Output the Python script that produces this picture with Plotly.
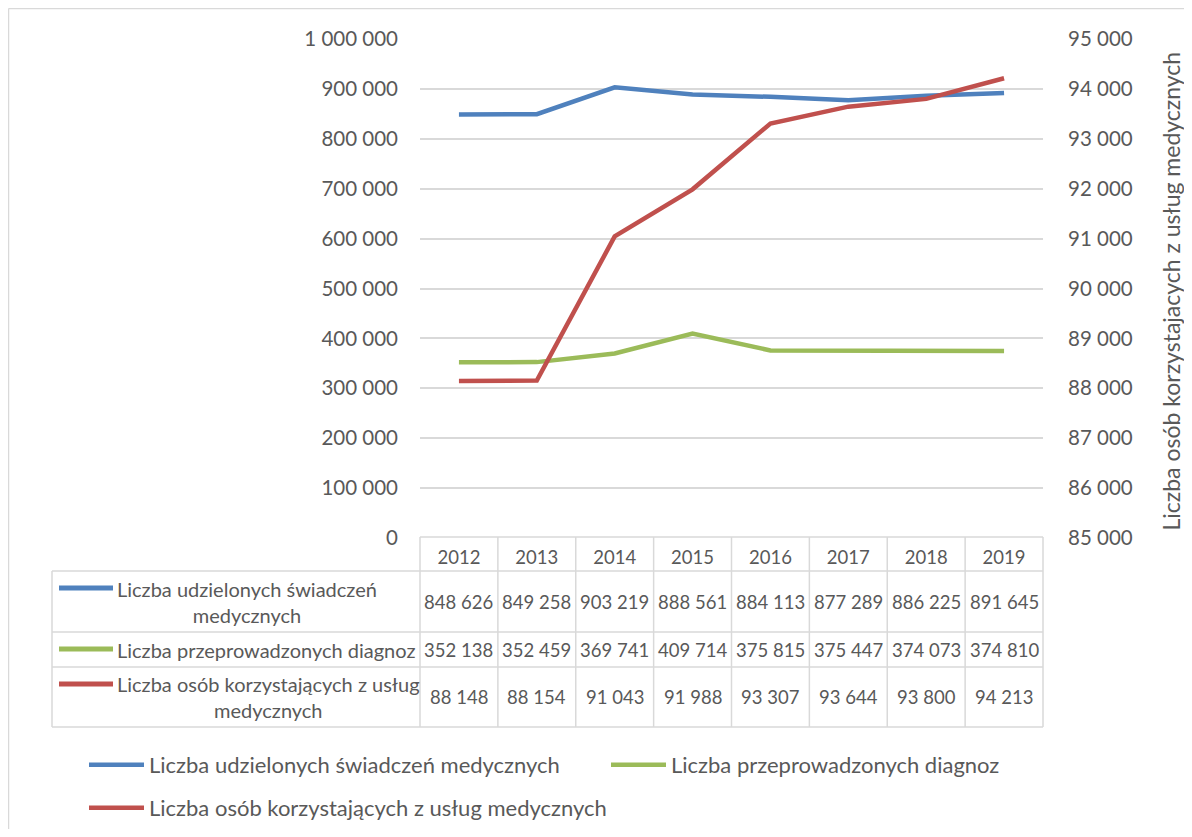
import plotly.graph_objects as go

# page body has an 8px margin, so the figure is drawn 8px in from the window edge
OFF = 8
W, H = 1176, 821

years = ["2012", "2013", "2014", "2015", "2016", "2017", "2018", "2019"]
swiadczenia = [848626, 849258, 903219, 888561, 884113, 877289, 886225, 891645]
diagnozy = [352138, 352459, 369741, 409714, 375815, 375447, 374073, 374810]
osoby = [88148, 88154, 91043, 91988, 93307, 93644, 93800, 94213]

names = [
    "Liczba udzielonych świadczeń medycznych",
    "Liczba przeprowadzonych diagnoz",
    "Liczba osób korzystających z usług medycznych",
]
table_names = [
    "Liczba udzielonych świadczeń<br>medycznych",
    "Liczba przeprowadzonych diagnoz",
    "Liczba osób korzystających z usług<br>medycznych",
]
right_title = "Liczba osób korzystajacych z usług medycznych"

BLUE, GREEN, RED = "#4f81bd", "#9bbb59", "#c0504d"
TXT = "#595959"
GRID = "#d9d9d9"
FONT = "Lato"


def px_x(v):
    return (v - OFF) / W


def px_y(v):
    return 1 - (v - OFF) / H


fig = go.Figure()
fig.add_trace(go.Scatter(x=years, y=swiadczenia, name=names[0], mode="lines",
                         line=dict(color=BLUE, width=4.5)))
fig.add_trace(go.Scatter(x=years, y=diagnozy, name=names[1], mode="lines",
                         line=dict(color=GREEN, width=4.5)))
fig.add_trace(go.Scatter(x=years, y=osoby, name=names[2], mode="lines", yaxis="y2",
                         legend="legend2", line=dict(color=RED, width=4.5)))

# plot area in window pixels
PL, PR, PT, PB = 420, 1043, 39, 538

leg_common = dict(orientation="h", xanchor="left", yanchor="middle",
                  itemwidth=55, entrywidth=452, entrywidthmode="pixels",
                  font=dict(size=22, color=TXT), bgcolor="rgba(0,0,0,0)")

fig.update_layout(
    width=W, height=H,
    margin=dict(l=0, r=0, t=0, b=0, autoexpand=False),
    paper_bgcolor="white", plot_bgcolor="white",
    separators=", ",
    font=dict(family=FONT, size=18.5, color=TXT),
    xaxis=dict(domain=[px_x(PL), px_x(PR)], type="category", range=[-0.5, 7.5],
               showgrid=False, showline=False, zeroline=False, automargin=False,
               ticks="", ticklabelstandoff=6, tickfont=dict(size=18.5, color=TXT)),
    yaxis=dict(domain=[px_y(PB), px_y(PT)], range=[0, 1000000], dtick=100000,
               tickformat=",d", showgrid=True, gridcolor=GRID, gridwidth=1.5,
               zeroline=False, showline=False, ticklabelstandoff=21, automargin=False,
               tickfont=dict(size=20.5, color=TXT)),
    yaxis2=dict(overlaying="y", side="right", range=[85000, 95000], dtick=1000,
                tickformat=",d", showgrid=False, zeroline=False, showline=False,
                ticklabelstandoff=24, automargin=False,
                tickfont=dict(size=20.5, color=TXT)),
    legend=dict(x=px_x(84), y=px_y(765), **leg_common),
    legend2=dict(x=px_x(84), y=px_y(808), **leg_common),
    showlegend=True,
)

shapes = []


def hline(x0, x1, y):
    shapes.append(dict(type="line", xref="paper", yref="paper",
                       x0=px_x(x0), x1=px_x(x1), y0=px_y(y), y1=px_y(y),
                       line=dict(color=GRID, width=1.5)))


def vline(x, y0, y1):
    shapes.append(dict(type="line", xref="paper", yref="paper",
                       x0=px_x(x), x1=px_x(x), y0=px_y(y0), y1=px_y(y1),
                       line=dict(color=GRID, width=1.5)))


# outer chart frame
hline(8.5, 1200, 8.5)
vline(8.5, 8.5, 850)

# data table grid
T0, T1, T2, T3, T4 = 537, 571, 632, 667, 727
TL = 52
hline(PL, PR, T0)
for yy in (T1, T2, T3, T4):
    hline(TL, PR, yy)
vline(TL, T1, T4)
col_w = (PR - PL) / len(years)
for i in range(len(years) + 1):
    vline(PL + i * col_w, T0, T4)

annotations = []
row_centers = [601.5, 649.5, 697]
key_y = [588, 649, 684]
for name, color, yc, ky, vals in zip(table_names, [BLUE, GREEN, RED], row_centers, key_y,
                                      [swiadczenia, diagnozy, osoby]):
    shapes.append(dict(type="line", xref="paper", yref="paper",
                       x0=px_x(59), x1=px_x(113), y0=px_y(ky), y1=px_y(ky),
                       line=dict(color=color, width=5)))
    annotations.append(dict(xref="paper", yref="paper", x=px_x(115), y=px_y(yc),
                            xanchor="left", yanchor="middle", align="center",
                            text=name, showarrow=False, font=dict(size=20, color=TXT)))
    for i, v in enumerate(vals):
        annotations.append(dict(xref="x", yref="paper", x=i, y=px_y(yc),
                                xanchor="center", yanchor="middle",
                                text=f"{v:,}".replace(",", " "), showarrow=False,
                                font=dict(size=18.5, color=TXT)))

annotations.append(dict(xref="paper", yref="paper", x=px_x(1171), y=px_y((PT + PB) / 2 + 3),
                        xanchor="center", yanchor="middle", textangle=-90,
                        text=right_title, showarrow=False, font=dict(size=23, color=TXT)))

fig.update_layout(shapes=shapes, annotations=annotations)
fig.write_html("out.html")
